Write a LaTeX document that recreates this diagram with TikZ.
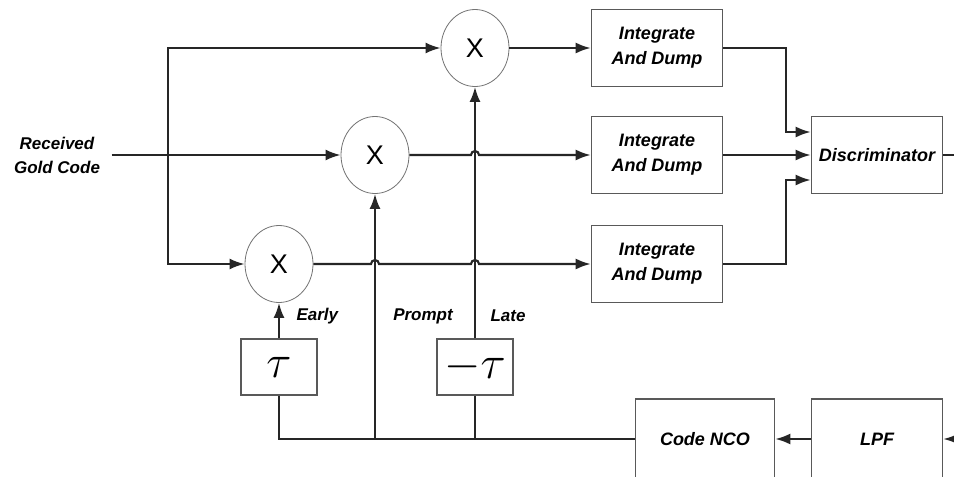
\documentclass[tikz,border=0pt]{standalone}
\usepackage{amsmath}
\usepackage{fontspec}
\setmainfont{Liberation Sans}
\usetikzlibrary{arrows.meta,shapes.geometric}

\begin{document}
\begin{tikzpicture}[x=1pt,y=-1pt,
		blk/.style={draw=black!65,line width=1.6pt,minimum width=131pt,minimum height=77pt,inner sep=0pt,align=center,font=\fontsize{18}{25}\selectfont\bfseries\itshape},
		mult/.style={draw=black!55,ellipse,line width=0.8pt,minimum width=68pt,minimum height=77pt,inner sep=0pt,font=\fontsize{27}{27}\selectfont},
		dly/.style={blk,minimum width=76pt,minimum height=56pt},
		lbl/.style={font=\fontsize{17}{24}\selectfont\bfseries\itshape,align=center},
		wire/.style={draw=black!85,line width=2.1pt},
		arr/.style={wire,-{Latex[length=15pt,width=11pt]}}]
				\useasboundingbox (0,0) rectangle (954,477);
				\node[lbl] (rx) at (57,155) {Received\\Gold Code};
				\node[mult] (mL) at (475,48) {X};
				\node[mult] (mP) at (375,155) {X};
				\node[mult] (mE) at (279,264) {X};
				\node[blk] (idL) at (657,48) {Integrate\\And Dump};
				\node[blk] (idP) at (657,155) {Integrate\\And Dump};
				\node[blk] (idE) at (657,264) {Integrate\\And Dump};
				\node[blk] (disc) at (877,155) {Discriminator};
				\node[blk,minimum width=139pt,minimum height=80pt] (nco) at (705,439) {Code NCO};
				\node[blk,minimum height=80pt] (lpf) at (877,439) {LPF};
				\node[dly] (dE) at (279,367) {\scalebox{2.7}{$\tau$}};
				\node[dly] (dL) at (475,367) {\scalebox{2.7}{$-\tau$}};
				\node[lbl,anchor=west] (early) at (293,316) {Early};
				\node[lbl] (prompt) at (423,316) {Prompt};
				\node[lbl] (late) at (508,316) {Late};
				\coordinate (split) at (168,155);
				\coordinate (inR) at (954,439);
				\coordinate (outR) at (954,155);
				\draw[arr,shorten <=8pt] (rx) -- (mP);
				\draw[arr] (split) |- (mL);
				\draw[arr] (split) |- (mE);
				\draw[arr] (mL) -- (idL);
				\draw[arr] (mP.east) -- ([xshift=-4pt]dL |- mP) arc[start angle=180,end angle=0,radius=4pt] -- (idP.west);
				\draw[arr] (mE.east) -- ([xshift=-4pt]mP |- mE) arc[start angle=180,end angle=0,radius=4pt] -- ([xshift=-4pt]dL |- mE) arc[start angle=180,end angle=0,radius=4pt] -- (idE.west);
				\draw[arr] (idL.east) -| ([xshift=-25pt,yshift=23pt]disc.west) -- ([yshift=23pt]disc.west);
				\draw[arr] (idP) -- (disc);
				\draw[arr] (idE.east) -| ([xshift=-25pt,yshift=-25pt]disc.west) -- ([yshift=-25pt]disc.west);
				\draw[wire] (disc) -- (outR);
				\draw[arr] (inR) -- (lpf);
				\draw[arr] (lpf) -- (nco);
				\draw[wire] (nco.west) -| (dE.south);
				\draw[arr] (dE) -- (mE);
				\draw[arr] (mP |- nco.west) -- (mP);
				\draw[wire] (dL |- nco.west) -- (dL);
				\draw[arr] (dL) -- (mL);
			\end{tikzpicture}
\end{document}
